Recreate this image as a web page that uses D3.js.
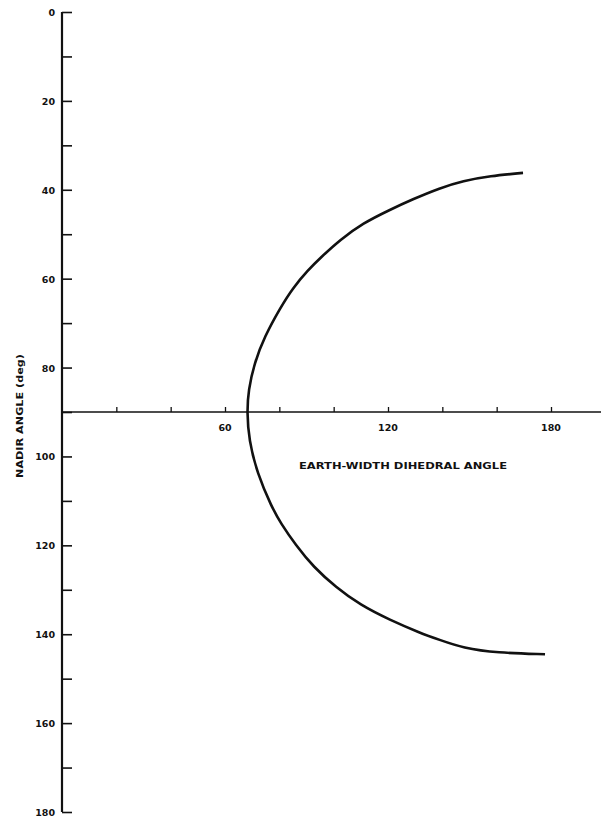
<!DOCTYPE html>
<html><head><meta charset="utf-8">
<script src="https://cdn.jsdelivr.net/npm/d3@7"></script>
<style>
body{margin:0;background:#fff;}
text{font-family:"DejaVu Sans","Liberation Sans",Arial,sans-serif;font-weight:bold;fill:#111;}
</style></head>
<body>
<svg id="c" width="601" height="821"></svg>
<script>
// Data
const nadirAngle = [36.2, 36.9, 38.0, 39.6, 42.1, 44.5, 47.5, 51.3, 55.1, 58.1, 62.1, 66.4, 73.1, 79.0, 85.1, 90.0,
                    96.3, 103.7, 111.4, 115.0, 119.9, 124.9, 129.4, 133.4, 136.8, 139.7, 141.3, 143.1, 144.2, 144.5];
const dihedralAngle = [169.7, 157.5, 147.6, 139.1, 129.2, 120.7, 110.8, 102.3, 95.5, 90.5, 85.0, 80.5, 74.5, 70.8, 68.6, 68.1,
                       68.8, 71.8, 77.2, 80.5, 86.0, 92.6, 100.8, 109.7, 120.7, 131.8, 139.1, 147.6, 160.1, 177.8];
const yTicks = d3.range(0, 181, 10);
const yTickLabels = [0, 20, 40, 60, 80, 100, 120, 140, 160, 180];
const xTicks = d3.range(20, 181, 20);
const xTickLabels = [60, 120, 180];

const svg = d3.select("#c");
const x = d3.scaleLinear().domain([0, 180]).range([62, 551]);
const y = d3.scaleLinear().domain([0, 180]).range([12, 812]);

// Y axis
const yAxis = d3.axisRight(y).tickValues(yTicks).tickSize(10).tickFormat("");
const gy = svg.append("g").attr("transform", `translate(${x(0)},0)`).call(yAxis);
gy.select(".domain").remove();
gy.selectAll(".tick line").attr("stroke", "#111").attr("stroke-width", 1.6);
svg.append("line").attr("x1", x(0)).attr("x2", x(0)).attr("y1", y(0)).attr("y2", y(180))
  .attr("stroke", "#111").attr("stroke-width", 2.2);
svg.append("g").selectAll("text").data(yTickLabels).join("text")
  .attr("x", 55).attr("y", d => y(d) + 4).attr("text-anchor", "end")
  .attr("font-size", 9.5).text(d => d);

// X axis at nadir = 90
const xAxis = d3.axisTop(x).tickValues(xTicks).tickSize(5).tickFormat("");
const gx = svg.append("g").attr("transform", `translate(0,${y(90)})`).call(xAxis);
gx.select(".domain").remove();
gx.selectAll(".tick line").attr("stroke", "#111").attr("stroke-width", 1.3);
svg.append("line").attr("x1", x(0)).attr("x2", 601).attr("y1", y(90)).attr("y2", y(90))
  .attr("stroke", "#111").attr("stroke-width", 1.6);
svg.append("g").selectAll("text").data(xTickLabels).join("text")
  .attr("x", d => x(d)).attr("y", y(90) + 19).attr("text-anchor", "middle")
  .attr("font-size", 9.5).text(d => d);

// Curve
const pts = nadirAngle.map((n, i) => [dihedralAngle[i], n]);
const line = d3.line().x(d => x(d[0])).y(d => y(d[1])).curve(d3.curveBasis);
svg.append("path").datum(pts).attr("d", line).attr("fill", "none")
  .attr("stroke", "#111").attr("stroke-width", 2.6).attr("stroke-linecap", "butt");

// Axis titles
svg.append("text").attr("transform", `translate(23,${416}) rotate(-90)`)
  .attr("text-anchor", "middle").attr("font-size", 8.5)
  .attr("textLength", 124).attr("lengthAdjust", "spacingAndGlyphs").text("NADIR ANGLE (deg)");
svg.append("text").attr("x", 299).attr("y", 469).attr("font-size", 9)
  .attr("textLength", 208).attr("lengthAdjust", "spacingAndGlyphs").text("EARTH-WIDTH DIHEDRAL ANGLE");
</script>
</body></html>
